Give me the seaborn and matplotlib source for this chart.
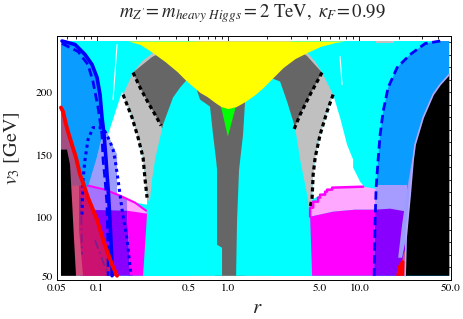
import matplotlib
matplotlib.use("Agg")
import matplotlib.pyplot as plt
import seaborn as sns
from matplotlib.ticker import FixedLocator, FixedFormatter, NullFormatter

# ---------------- data (r, v3 [GeV]) ----------------
R_LO, R_HI, V_LO, V_HI = 0.054, 48.5, 53.4, 241.0

x_ticks = [0.05, 0.1, 0.5, 1, 5, 10, 50]
x_tick_labels = ["0.05", "0.1", "0.5", "1.0", "5.0", "10.0", "50.0"]
x_minor = [0.06, 0.07, 0.08, 0.09, 0.2, 0.3, 0.4, 0.6, 0.7, 0.8, 0.9,
           2, 3, 4, 6, 7, 8, 9, 20, 30, 40]
y_ticks = [50, 100, 150, 200]
y_minor = [60, 70, 80, 90, 110, 120, 130, 140, 160, 170, 180, 190, 210, 220, 230, 240]

# black dotted boundaries
dotL_outer_r = [0.1592, 0.1864, 0.2071, 0.2261, 0.2342, 0.2425]
dotL_outer_v = [198.2, 179.8, 163.8, 147.8, 130.2, 115.8]
dotL_inner_r = [0.1897, 0.2145, 0.2468, 0.279, 0.310]
dotL_inner_v = [215.8, 203.8, 191.8, 182.2, 173.4]
dotR_inner_r = [5.21, 4.23, 3.55, 3.138]
dotR_inner_v = [215.8, 198.2, 182.2, 168.6]
dotR_outer_r = [6.33, 5.69, 5.04, 4.62, 4.46, 4.38, 4.23]
dotR_outer_v = [198.2, 184.6, 166.2, 147.8, 134.2, 115.8, 107.8]

white_left_r = [0.1564, 0.1224, 0.1313, 0.1433, 0.1433, 0.2425, 0.2425, 0.2261, 0.2071, 0.1864, 0.1592]
white_left_v = [200.6, 166.2, 158.2, 150.2, 114.2, 110.2, 115.8, 147.8, 163.8, 179.8, 198.2]
white_right_r = [6.33, 7.15, 8.08, 8.99, 8.99, 10.16, 11.09, 6.33, 4.38, 4.46, 4.62, 5.04, 5.69]
white_right_v = [198.2, 179.8, 158.2, 146.2, 139.8, 128.6, 123.8, 123.8, 114.2, 134.2, 147.8, 166.2, 184.6]

gray_top_r = [0.2222, 0.2647, 0.363, 0.614, 2.977, 4.01, 4.62]
gray_top_v = [224.6, 231.0, 238.2, 241.0, 241.0, 231.8, 224.6]
lgray_bottom_r = [2.096, 0.515]
lgray_bottom_v = [53.4, 53.4]
dgray_bottom_r = [1.352, 0.799]
dgray_bottom_v = [53.4, 53.4]

lobe_left_r = [0.2261, 0.2468, 0.2647, 0.279, 0.321, 0.382, 0.433, 0.489, 0.562, 0.614,
               0.731, 0.771, 0.813, 0.827, 0.827, 0.903, 0.903]
lobe_left_v = [53.4, 98.2, 130.2, 146.2, 174.2, 195.8, 203.8, 210.2, 206.2, 194.2,
               188.6, 166.2, 146.2, 138.2, 78.2, 75.8, 53.4]
lobe_right_r = [1.155, 1.175, 1.217, 1.305, 1.352, 1.611, 2.096, 2.498, 2.824, 3.25,
                3.55, 3.81, 4.08, 4.23, 4.31]
lobe_right_v = [53.4, 98.2, 138.2, 166.2, 192.6, 202.2, 211.8, 208.6, 192.6, 171.8,
                146.2, 130.2, 114.2, 90.2, 53.4]

yellow_r = [0.1738, 0.2145, 0.2601, 0.332, 0.41, 0.489, 0.614, 0.694, 0.799, 0.887, 1.0,
            1.155, 1.352, 1.611, 1.854, 2.209, 2.632, 3.25, 4.01, 5.04, 6.55, 7.80]
yellow_v = [241.0, 238.2, 232.6, 224.6, 216.6, 208.6, 199.8, 196.6, 191.8, 188.6, 187.0,
            188.6, 192.6, 198.2, 203.8, 211.8, 219.8, 227.0, 231.8, 236.6, 239.8, 241.0]
green_r = [0.88, 1.16, 1.0]
green_v = [190.0, 190.0, 164.6]

bsolid_r = [0.0546, 0.0686, 0.0817, 0.0924, 0.1009, 0.1063, 0.1101, 0.1141, 0.1181,
            0.1202, 0.1224, 0.1267, 0.1313, 0.1313]
bsolid_v = [241.0, 238.2, 230.2, 222.2, 211.8, 198.2, 179.8, 166.2, 146.2,
            134.2, 123.8, 96.6, 62.2, 53.4]
bdashL_r = [0.0546, 0.0723, 0.0861, 0.0940, 0.1027, 0.1101, 0.1121, 0.1161, 0.1202, 0.1224, 0.1224]
bdashL_v = [239.0, 232.6, 222.2, 208.6, 187.8, 166.2, 146.2, 130.2, 110.2, 70.2, 53.4]
bdot_r = [0.0775, 0.0789, 0.0817, 0.0861, 0.0940, 0.1063, 0.1161, 0.1267, 0.1336,
          0.1384, 0.1458, 0.1564, 0.1708, 0.1832]
bdot_v = [102.2, 130.2, 146.2, 162.2, 171.8, 171.8, 168.6, 160.6, 154.2,
          146.2, 130.2, 106.2, 82.2, 53.4]

blue_left_r = [0.0536, 0.0575, 0.0686, 0.0817, 0.0924, 0.1009, 0.1063, 0.1101, 0.1141, 0.1009, 0.0924, 0.0536]
blue_left_v = [241.0, 241.0, 238.2, 230.2, 222.2, 211.8, 198.2, 179.8, 170.2, 148.6, 123.8, 123.8]
lav_left_r = [0.1141, 0.1224, 0.1313, 0.1433, 0.1433, 0.0861, 0.1009]
lav_left_v = [171.8, 166.2, 158.2, 150.2, 118.2, 124.6, 148.6]
mpurple_r = [0.0749, 0.1161, 0.151, 0.1708, 0.1708, 0.0749]
mpurple_v = [125.4, 122.2, 117.4, 115.0, 105.4, 105.4]
magline_r = [0.0861, 0.1161, 0.151, 0.1965, 0.2383]
magline_v = [125.4, 122.2, 117.4, 111.8, 105.4]
lpink_left_r = [0.1708, 0.1965, 0.2383, 0.2425, 0.1708]
lpink_left_v = [115.0, 111.8, 105.4, 103.0, 104.6]
violet_left_r = [0.0749, 0.1708, 0.18, 0.0749]
violet_left_v = [106.2, 105.4, 53.4, 53.4]
magenta_left_r = [0.1708, 0.2425, 0.2261, 0.18]
magenta_left_v = [105.4, 103.0, 53.4, 53.4]

red_line_r = [0.0536, 0.0556, 0.0586, 0.0606, 0.0650, 0.0698, 0.0749, 0.0803,
              0.0861, 0.1009, 0.1141, 0.1313, 0.1433]
red_line_v = [187.8, 184.6, 174.2, 168.6, 158.2, 147.8, 134.2, 125.4,
              115.8, 98.2, 79.8, 62.2, 53.4]
dpink_r = [0.0736, 0.0803, 0.0861, 0.1009, 0.1141, 0.1313, 0.1433, 0.0789, 0.0736]
dpink_v = [125.4, 125.4, 115.8, 98.2, 79.8, 62.2, 53.4, 53.4, 90.2]
black_left_r = [0.0536, 0.0596, 0.0628, 0.0650, 0.0674, 0.0698, 0.0536]
black_left_v = [154.2, 154.2, 142.2, 114.2, 82.2, 53.4, 53.4]
dd1_r, dd1_v = [0.0762, 0.0775], [115.8, 70.2]
dd2_r, dd2_v = [0.0974, 0.1224], [81.8, 54.2]
ws1_r, ws1_v = [0.1433, 0.1336], [238.2, 194.2]
ws2_r, ws2_v = [7.15, 7.4], [228.6, 206.2]

bdashR_r = [41.4, 31.8, 24.43, 19.45, 16.6, 15.21, 14.43, 13.93, 13.45, 13.22, 12.99]
bdashR_v = [241.0, 239.0, 230.2, 219.8, 203.8, 184.6, 166.2, 146.2, 123.8, 96.6, 53.4]
black_right_r = [48.5, 41.4, 36.6, 30.7, 26.65, 25.74, 24.43, 22.77, 22.37, 48.5]
black_right_v = [214.2, 206.2, 198.2, 179.8, 158.2, 146.2, 118.2, 83.8, 53.4, 53.4]
lav_right_r = [26.65, 24.43, 22.77, 21.2, 19.8, 21.2, 23.17, 24.9]
lav_right_v = [154.2, 118.2, 83.8, 67.8, 67.8, 94.2, 122.2, 142.2]
lviolet_right_r = [13.45, 23.17, 23.17, 13.22]
lviolet_right_v = [126.2, 126.2, 104.6, 104.6]
violet_right_r = [13.22, 17.19, 23.17, 22.37, 12.99]
violet_right_v = [106.2, 107.0, 104.6, 53.4, 53.4]
stair_r = [4.23, 4.23, 4.46, 4.46, 4.86, 4.86, 5.04, 5.04, 5.50, 5.50, 5.69, 5.69, 6.22, 6.22, 10.71]
stair_v = [100.6, 107.8, 107.8, 112.6, 112.6, 115.8, 115.8, 118.2, 118.2, 120.6, 120.6, 122.2, 122.2, 123.8, 124.6]
lpink_right_tail_r = [13.22, 13.22, 9.3, 6.33]
lpink_right_tail_v = [123.0, 106.2, 106.2, 104.6]
magenta_right_r = [4.23, 6.33, 9.3, 13.22, 12.99, 4.38]
magenta_right_v = [100.6, 104.6, 106.2, 106.2, 53.4, 53.4]
red_right_r = [19.11, 19.8, 21.2, 22.37, 22.37]
red_right_v = [53.4, 61.4, 66.2, 64.6, 53.4]
rose_right_r = [20.5, 21.6, 22.77, 22.37]
rose_right_v = [53.4, 70.2, 75.8, 53.4]
lgray_speck_r = [13.4, 18.5, 18.5, 13.4]
lgray_speck_v = [241.0, 241.0, 239.6, 239.6]

# ---------------- style ----------------
sns.set_style("white")
plt.rcParams['font.family'] = ['STIXGeneral', 'Liberation Serif', 'DejaVu Serif']
plt.rcParams['mathtext.fontset'] = 'stix'

fig = plt.figure(figsize=(4.63, 3.19), dpi=100)
ax = fig.add_axes([57 / 463, 39 / 319, 394 / 463, 244 / 319])
ax.set_xscale('log')


def region(r, v, color, z):
    ax.fill(r, v, color=color, lw=0, zorder=z)


def curve(r, v, color, lw, ls, z):
    sns.lineplot(x=r, y=v, sort=False, estimator=None, color=color, lw=lw,
                 linestyle=ls, ax=ax, zorder=z)


CYAN, YELLOW, GREEN = '#00FFFF', '#FFFF00', '#00FF00'
DGRAY, LGRAY = '#666666', '#C0C0C0'
BLUE_REG, LAV, MPURP = '#0A9CFF', '#9C9CFF', '#A474FF'
VIOLET, MAGENTA, LPINK = '#8A00FF', '#FF00FF', '#FFA8FF'
ROSE, MAUVE, DPINK = '#D04A7A', '#A34E85', '#CC1270'

region([R_LO, R_HI, R_HI, R_LO], [V_LO, V_LO, V_HI, V_HI], CYAN, 1)
region(white_left_r, white_left_v, 'white', 2)
region(white_right_r, white_right_v, 'white', 2)

lgray_r = dotL_outer_r[::-1] + dotL_inner_r[:1] + gray_top_r + dotR_inner_r[:1] + dotR_outer_r + lgray_bottom_r
lgray_v = dotL_outer_v[::-1] + dotL_inner_v[:1] + gray_top_v + dotR_inner_v[:1] + dotR_outer_v + lgray_bottom_v
region(lgray_r, lgray_v, LGRAY, 3)
dgray_r = dotL_inner_r[::-1] + gray_top_r + dotR_inner_r + dgray_bottom_r
dgray_v = dotL_inner_v[::-1] + [v - 2.8 for v in gray_top_v] + dotR_inner_v + dgray_bottom_v
region(dgray_r, dgray_v, DGRAY, 4)
region(lobe_left_r, lobe_left_v, CYAN, 5)
region(lobe_right_r, lobe_right_v, CYAN, 5)
region(green_r, green_v, GREEN, 6)
ax.fill_between(yellow_r, yellow_v, V_HI, color=YELLOW, lw=0, zorder=7)
region(lgray_speck_r, lgray_speck_v, LGRAY, 7)

region(blue_left_r, blue_left_v, BLUE_REG, 8)
region(lav_left_r, lav_left_v, LAV, 9)
region(mpurple_r, mpurple_v, MPURP, 10)
region(lpink_left_r, lpink_left_v, LPINK, 10)
region(violet_left_r, violet_left_v, VIOLET, 10)
region(magenta_left_r, magenta_left_v, MAGENTA, 10)
region(red_line_r + [R_LO], red_line_v + [V_LO], ROSE, 11)
region(red_line_r[:8] + [R_LO], red_line_v[:8] + [125.4], MAUVE, 12)
region(dpink_r, dpink_v, DPINK, 12)
region(black_left_r, black_left_v, 'black', 13)

region(bdashR_r + [R_HI, R_HI], bdashR_v + [V_LO, V_HI], BLUE_REG, 8)
region(lviolet_right_r, lviolet_right_v, '#A69CFF', 9)
region(violet_right_r, violet_right_v, VIOLET, 10)
region(stair_r + lpink_right_tail_r, stair_v + lpink_right_tail_v, LPINK, 10)
region(magenta_right_r, magenta_right_v, MAGENTA, 10)
region(lav_right_r, lav_right_v, LAV, 12)
region(rose_right_r, rose_right_v, ROSE, 12.5)
region(black_right_r, black_right_v, 'black', 13)
region(red_right_r, red_right_v, '#FF0000', 14)

# boundary curves
DOT = (0, (1.3, 1.0))
for rr, vv in [(dotL_outer_r, dotL_outer_v), (dotL_inner_r, dotL_inner_v),
               (dotR_inner_r, dotR_inner_v), (dotR_outer_r, dotR_outer_v)]:
    curve(rr, vv, 'black', 2.3, DOT, 15)
curve(ws1_r, ws1_v, 'white', 0.8, '-', 15)
curve(ws2_r, ws2_v, 'white', 0.8, '-', 15)
curve(black_right_r[:-1], black_right_v[:-1], '#B4A8FF', 1.2, '-', 15)
curve(magline_r, magline_v, MAGENTA, 1.5, '-', 15)
curve(stair_r, stair_v, MAGENTA, 1.8, '-', 15)
curve(dd1_r, dd1_v, '#7A1E8C', 1.3, (0, (5, 2, 1, 2)), 15)
curve(dd2_r, dd2_v, '#7A1E8C', 1.3, (0, (5, 2, 1, 2)), 15)
curve(bsolid_r, bsolid_v, '#0000FF', 2.6, '-', 16)
curve(bdashL_r, bdashL_v, '#0000FF', 2.0, (0, (3, 1.6)), 16)
curve(bdot_r, bdot_v, '#0000FF', 2.2, (0, (1, 1.2)), 16)
curve(bdashR_r, bdashR_v, '#0000FF', 2.0, (0, (3, 1.6)), 16)
curve(red_line_r, red_line_v, '#FF0000', 2.8, '-', 17)

# axes, ticks, labels
ax.set_xlim(0.05, 50)
ax.set_ylim(50, 245)
ax.xaxis.set_major_locator(FixedLocator(x_ticks))
ax.xaxis.set_major_formatter(FixedFormatter(x_tick_labels))
ax.xaxis.set_minor_locator(FixedLocator(x_minor))
ax.xaxis.set_minor_formatter(NullFormatter())
ax.yaxis.set_major_locator(FixedLocator(y_ticks))
ax.yaxis.set_minor_locator(FixedLocator(y_minor))
ax.tick_params(which='both', direction='in', top=True, right=True,
               width=0.6, labelsize=8.2, colors='black')
ax.tick_params(axis='x', which='both', pad=2.5)
ax.tick_params(axis='y', which='both', pad=3)
ax.tick_params(which='major', length=5)
ax.tick_params(which='minor', length=2.5)
for s in ax.spines.values():
    s.set_linewidth(0.7)
    s.set_color('black')
    s.set_zorder(20)
# lift the bottom y label a little so it does not touch "0.05"
ax.yaxis.get_major_ticks()[0].label1.set_va('baseline')

ax.set_xlabel(r"$r$", fontsize=15)
ax.xaxis.set_label_coords(0.508, -0.075)
ax.set_ylabel(r"$v_3$ [GeV]", fontsize=14.5)
ax.yaxis.set_label_coords(-0.088, 0.54)
fig.text(0.545, 0.957, r"$m_{Z'}\!= m_{heavy\ Higgs}= 2\ \mathrm{TeV},\ \kappa_F\!= 0.99$",
         ha='center', va='center', fontsize=13.5)

fig.savefig("out.png", dpi=100)
